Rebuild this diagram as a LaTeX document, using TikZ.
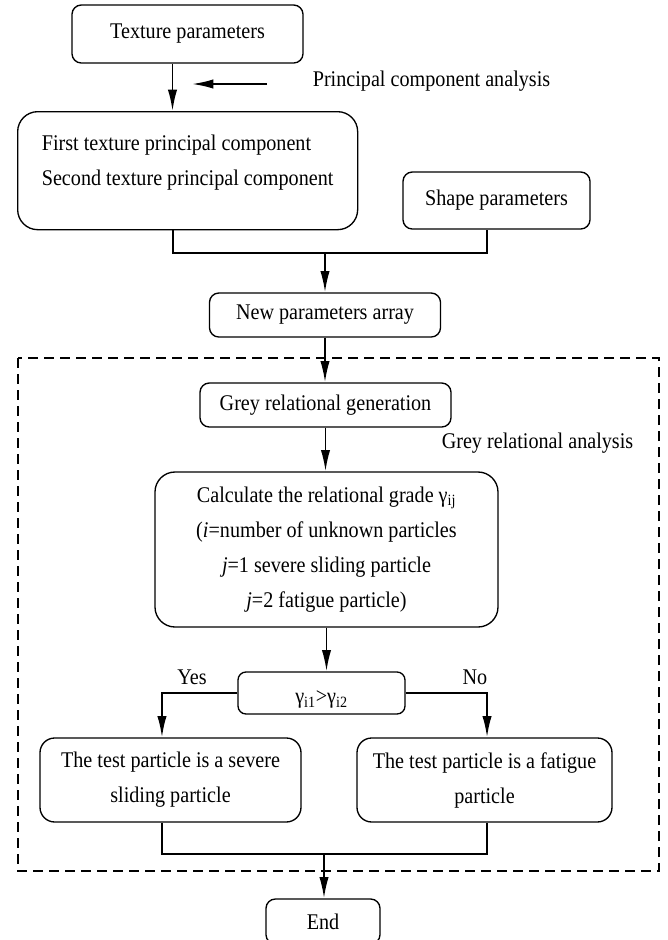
\documentclass[tikz,border=0pt]{standalone}
\usepackage{fontspec}
\setmainfont{Liberation Serif}[FakeStretch=0.9]
\usetikzlibrary{arrows.meta,positioning,calc}
\tikzset{
    procbox/.style={
    rectangle,rounded corners=7pt,draw=black,line width=1pt,align=center,inner sep=0pt
    },
    bigbox/.style={
    procbox,rounded corners=15pt
    },
    note/.style={
    inner sep=0pt
    },
    flow/.style={
    line width=1.4pt,-{Latex[length=16pt,width=7pt]}
    },
    joint/.style={
    line width=1.4pt
    },
    region/.style={
    draw=black,line width=1.2pt,dash pattern=on 7.5pt off 4.5pt
    },
}

\begin{document}
\begin{tikzpicture}[x=0.75pt,y=-0.75pt,font=\fontsize{16.8pt}{26.25pt}\selectfont]
  \useasboundingbox (0,0) rectangle (668,940);
  \node[procbox,minimum width=173.25pt,minimum height=43.5pt] (tex) at (187.5,34) {Texture parameters};
  \node[bigbox,anchor=north west,minimum width=255pt,text height=29.25pt,text depth=59.25pt] (comp) at (17,111) {\vtop{\hbox{First texture principal component}\hbox{Second texture principal component}}};
  \node[procbox,minimum width=140.25pt,minimum height=42.75pt] (shape) at (496.5,200.5) {Shape parameters};
  \node[procbox,minimum width=173.25pt,minimum height=33pt] (newp) at (325,315) {New parameters array};
  \node[procbox,minimum width=188.25pt,minimum height=33pt] (gen) at (325.5,405) {Grey relational generation};
  \node[bigbox,minimum width=257.25pt,minimum height=116.25pt] (calc) at (326.5,549.5) {Calculate the relational grade γ\textsubscript{ij}\\(\textit{i}=number of unknown particles\\\textit{j}=1 severe sliding particle\\\textit{j}=2 fatigue particle)};
  \node[procbox,rounded corners=6pt,minimum width=125.25pt,minimum height=31.5pt,text height=18pt,text depth=2pt] (cond) at (321.5,693) {γ\textsubscript{i1}>γ\textsubscript{i2}};
  \node[procbox,rounded corners=11pt,minimum width=195.75pt,minimum height=63pt] (sev) at (170.5,780) {The test particle is a severe\\sliding particle};
  \node[procbox,rounded corners=11pt,minimum width=191.25pt,minimum height=63pt] (fat) at (484.5,780) {The test particle is a fatigue\\particle};
  \node[procbox,minimum width=85.5pt,minimum height=33.75pt] (stop) at (323,921.5) {End};

  \node[note] (pca) at (431.5,81) {Principal component analysis};
  \node[note] (gra) at (537.5,443) {Grey relational analysis};
  \node[note] (yes) at (192,677) {Yes};
  \node[note] (no) at (475,677) {No};

  \coordinate (pcaR) at (267,84);
  \coordinate (pcaL) at (192,84);
  \coordinate (m1) at (325,253);
  \coordinate (m2) at (324,854);

  \draw[region] (18,358) rectangle (659,871);

  \draw[flow] (pcaR) -- (pcaL);
  \draw[flow] ([xshift=-11.25pt]tex.south) -- ([xshift=-11.25pt]tex.south |- comp.north);
  \draw[joint] ([xshift=-11.25pt]comp.south) |- (m1) -| ([xshift=-7.1pt]shape.south);
  \draw[flow] (m1) -- (m1 |- newp.north);
  \draw[flow] (newp.south) -- (newp.south |- gen.north);
  \draw[flow] (gen.south) -- (gen.south |- calc.north);
  \draw[flow] (calc.south) -- (calc.south |- cond.north);
  \draw[flow] (cond.west) -| ([xshift=-6.4pt]sev.north);
  \draw[flow] (cond.east) -| ([xshift=1.9pt]fat.north);
  \draw[joint] ([xshift=-6.4pt]sev.south) |- (m2) -| ([xshift=1.9pt]fat.south);
  \draw[flow] (m2) -- (m2 |- stop.north);
\end{tikzpicture}
\end{document}
